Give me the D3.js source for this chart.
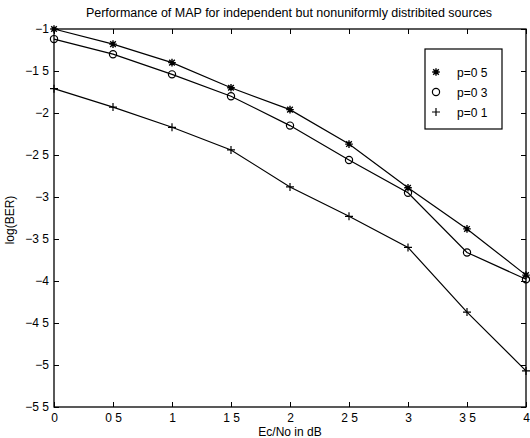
<!DOCTYPE html>
<html><head><meta charset="utf-8">
<script src="https://cdn.jsdelivr.net/npm/d3@7/dist/d3.min.js"></script>
<style>body{margin:0;background:#fff}svg{display:block}text{font-family:"Liberation Sans",Arial,sans-serif;fill:#000}</style>
</head><body><svg id="c" width="530" height="438"></svg>
<script>
const xValues = [0, 0.5, 1, 1.5, 2, 2.5, 3, 3.5, 4];
const p05 = [-1.00, -1.18, -1.40, -1.70, -1.96, -2.37, -2.89, -3.38, -3.93];
const p03 = [-1.12, -1.30, -1.54, -1.80, -2.15, -2.56, -2.95, -3.66, -3.98];
const p01 = [-1.71, -1.93, -2.17, -2.44, -2.88, -3.23, -3.60, -4.37, -5.07];
const seriesNames = ["p=0 5", "p=0 3", "p=0 1"];
const xTicks = [0, 0.5, 1, 1.5, 2, 2.5, 3, 3.5, 4];
const xTickLabels = ["0", "0 5", "1", "1 5", "2", "2 5", "3", "3 5", "4"];
const yTicks = [-1, -1.5, -2, -2.5, -3, -3.5, -4, -4.5, -5, -5.5];
const yTickLabels = ["\u22121", "\u22121 5", "\u22122", "\u22122 5", "\u22123", "\u22123 5", "\u22124", "\u22124 5", "\u22125", "\u22125 5"];
const title = "Performance of MAP for independent but nonuniformly distribited sources";
const xLabel = "Ec/No in dB";
const yLabel = "log(BER)";

const svg = d3.select("#c");
const L = 54, R = 526, T = 29, B = 407;
const x = d3.scaleLinear().domain([0, 4]).range([L, R]);
const y = d3.scaleLinear().domain([-5.5, -1]).range([B, T]);

svg.append("rect").attr("x", L).attr("y", T).attr("width", R - L).attr("height", B - T)
  .attr("fill", "none").attr("stroke", "#000").attr("stroke-width", 1.3);

const fmtX = (d, i) => xTickLabels[i];
const fmtY = (d, i) => yTickLabels[i];
const ax = (g) => { g.select(".domain").remove(); g.selectAll("line").attr("stroke", "#000"); g.selectAll("text").style("font-size", "12px").attr("fill", "#000"); };

svg.append("g").attr("transform", `translate(0,${B})`)
  .call(d3.axisBottom(x).tickValues(xTicks).tickFormat(fmtX).tickSizeInner(-5).tickSizeOuter(0).tickPadding(6))
  .call(ax);
svg.append("g").attr("transform", `translate(0,${T})`)
  .call(d3.axisTop(x).tickValues(xTicks).tickFormat("").tickSizeInner(-5).tickSizeOuter(0))
  .call(ax);
svg.append("g").attr("transform", `translate(${L},0)`)
  .call(d3.axisLeft(y).tickValues(yTicks).tickFormat(fmtY).tickSizeInner(-5).tickSizeOuter(0).tickPadding(5))
  .call(ax);
svg.append("g").attr("transform", `translate(${R},0)`)
  .call(d3.axisRight(y).tickValues(yTicks).tickFormat("").tickSizeInner(-5).tickSizeOuter(0))
  .call(ax);

const line = d3.line().x((d, i) => x(xValues[i])).y(d => y(d));
const data = [p05, p03, p01];
const markers = ["star", "circle", "plus"];

function drawMarker(g, type, cx, cy) {
  if (type === "circle") {
    g.append("circle").attr("cx", cx).attr("cy", cy).attr("r", 3.6).attr("fill", "none").attr("stroke", "#000").attr("stroke-width", 1.2);
  } else if (type === "plus") {
    g.append("path").attr("d", `M${cx-4},${cy}H${cx+4}M${cx},${cy-4}V${cy+4}`).attr("stroke", "#000").attr("stroke-width", 1.2);
  } else {
    const s = 3.8, d = 2.8;
    g.append("path").attr("d", `M${cx-s},${cy}H${cx+s}M${cx},${cy-s}V${cy+s}M${cx-d},${cy-d}L${cx+d},${cy+d}M${cx-d},${cy+d}L${cx+d},${cy-d}`)
      .attr("stroke", "#000").attr("stroke-width", 1.4);
  }
}

data.forEach((s, k) => {
  svg.append("path").datum(s).attr("d", line).attr("fill", "none").attr("stroke", "#000").attr("stroke-width", 1.2);
  const g = svg.append("g");
  s.forEach((v, i) => drawMarker(g, markers[k], x(xValues[i]), y(v)));
});

const lg = svg.append("g");
lg.append("rect").attr("x", 425).attr("y", 49).attr("width", 77).attr("height", 80)
  .attr("fill", "#fff").attr("stroke", "#000").attr("stroke-width", 1.2);
seriesNames.forEach((n, k) => {
  const cy = 72 + k * 20;
  drawMarker(lg, markers[k], 436, cy);
  lg.append("text").attr("x", 457).attr("y", cy + 4.5).style("font-size", "12px").text(n);
});

svg.append("text").attr("x", 289).attr("y", 17).attr("text-anchor", "middle").style("font-size", "12.5px").text(title);
svg.append("text").attr("x", 290).attr("y", 436).attr("text-anchor", "middle").style("font-size", "12px").text(xLabel);
svg.append("text").attr("transform", "translate(14,220) rotate(-90)").attr("text-anchor", "middle").style("font-size", "12px").text(yLabel);
</script></body></html>
